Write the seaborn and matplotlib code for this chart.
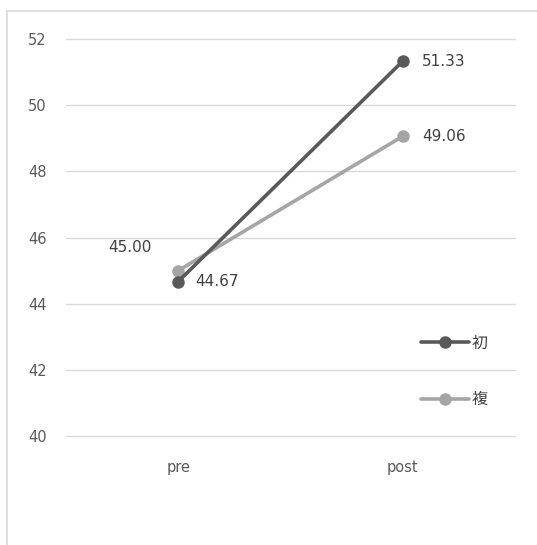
import matplotlib
matplotlib.use("Agg")
import matplotlib.pyplot as plt
from matplotlib.patches import Rectangle
import seaborn as sns
import pandas as pd

# Data
phases = ["pre", "post"]
series_names = ["初", "複"]
vals_first = [44.67, 51.33]
vals_repeat = [45.00, 49.06]
y_ticks = [40, 42, 44, 46, 48, 50, 52]

df = pd.DataFrame({
    "phase": phases * 2,
    "score": vals_first + vals_repeat,
    "group": [series_names[0]] * 2 + [series_names[1]] * 2,
})

sns.set_theme(style="white")
plt.rcParams["font.family"] = ["DejaVu Sans", "Noto Sans CJK JP"]

W, H = 537, 545
fig = plt.figure(figsize=(W / 100, H / 100), dpi=100)
ax = fig.add_axes([66 / W, 1 - 436 / H, (515 - 66) / W, (436 - 39) / H])

# Light outer frame of the chart area
fig.patches.append(Rectangle((7 / W, -0.1), 1.2, 1 - 11 / H + 0.1,
                             transform=fig.transFigure, fill=False,
                             edgecolor="#D9D9D9", linewidth=1.2, zorder=0))

palette = {series_names[0]: "#595959", series_names[1]: "#A5A5A5"}
# draw the lighter series first so the dark one sits on top
sns.lineplot(data=df, x="phase", y="score", hue="group",
             hue_order=[series_names[1], series_names[0]],
             palette=palette, marker="o", markersize=9, linewidth=2.6,
             markeredgewidth=0, ax=ax, legend=False, sort=False)

ax.set_xlim(-0.5, 1.5)
ax.set_ylim(40, 52)
ax.set_yticks(y_ticks)
ax.set_xticks([0, 1])
ax.set_xticklabels(phases)
ax.set_xlabel("")
ax.set_ylabel("")
ax.grid(axis="y", color="#D9D9D9", linewidth=1)
for gl in ax.get_ygridlines():
    gl.set_clip_on(False)
ax.set_axisbelow(True)
for s in ax.spines.values():
    s.set_visible(False)
ax.tick_params(axis="both", length=0, labelsize=10.5, colors="#595959")
ax.tick_params(axis="y", pad=14)
ax.tick_params(axis="x", pad=17)

# Value labels
lab_kw = dict(fontsize=11, color="#404040")
ax.annotate(f"{vals_first[1]:.2f}", (1, vals_first[1]), xytext=(14, 0),
            textcoords="offset points", va="center", ha="left", **lab_kw)
ax.annotate(f"{vals_repeat[1]:.2f}", (1, vals_repeat[1]), xytext=(14, 0),
            textcoords="offset points", va="center", ha="left", **lab_kw)
ax.annotate(f"{vals_first[0]:.2f}", (0, vals_first[0]), xytext=(12, 0),
            textcoords="offset points", va="center", ha="left", **lab_kw)
ax.annotate(f"{vals_repeat[0]:.2f}", (0, vals_repeat[0]), xytext=(-19, 11),
            textcoords="offset points", va="bottom", ha="right", **lab_kw)

# Legend
handles = [plt.Line2D([], [], color=palette[n], marker="o", markersize=9,
                      markeredgewidth=0, linewidth=2.6) for n in series_names]
leg = fig.legend(handles, series_names, loc="upper left",
                 bbox_to_anchor=(407 / W, 1 - 320 / H), frameon=False,
                 handlelength=3.0, handletextpad=0.15, labelspacing=2.5,
                 prop={"family": ["Noto Sans CJK JP"], "size": 11.5})
for t in leg.get_texts():
    t.set_color("#404040")

fig.savefig("out.png", dpi=100, facecolor="white")
